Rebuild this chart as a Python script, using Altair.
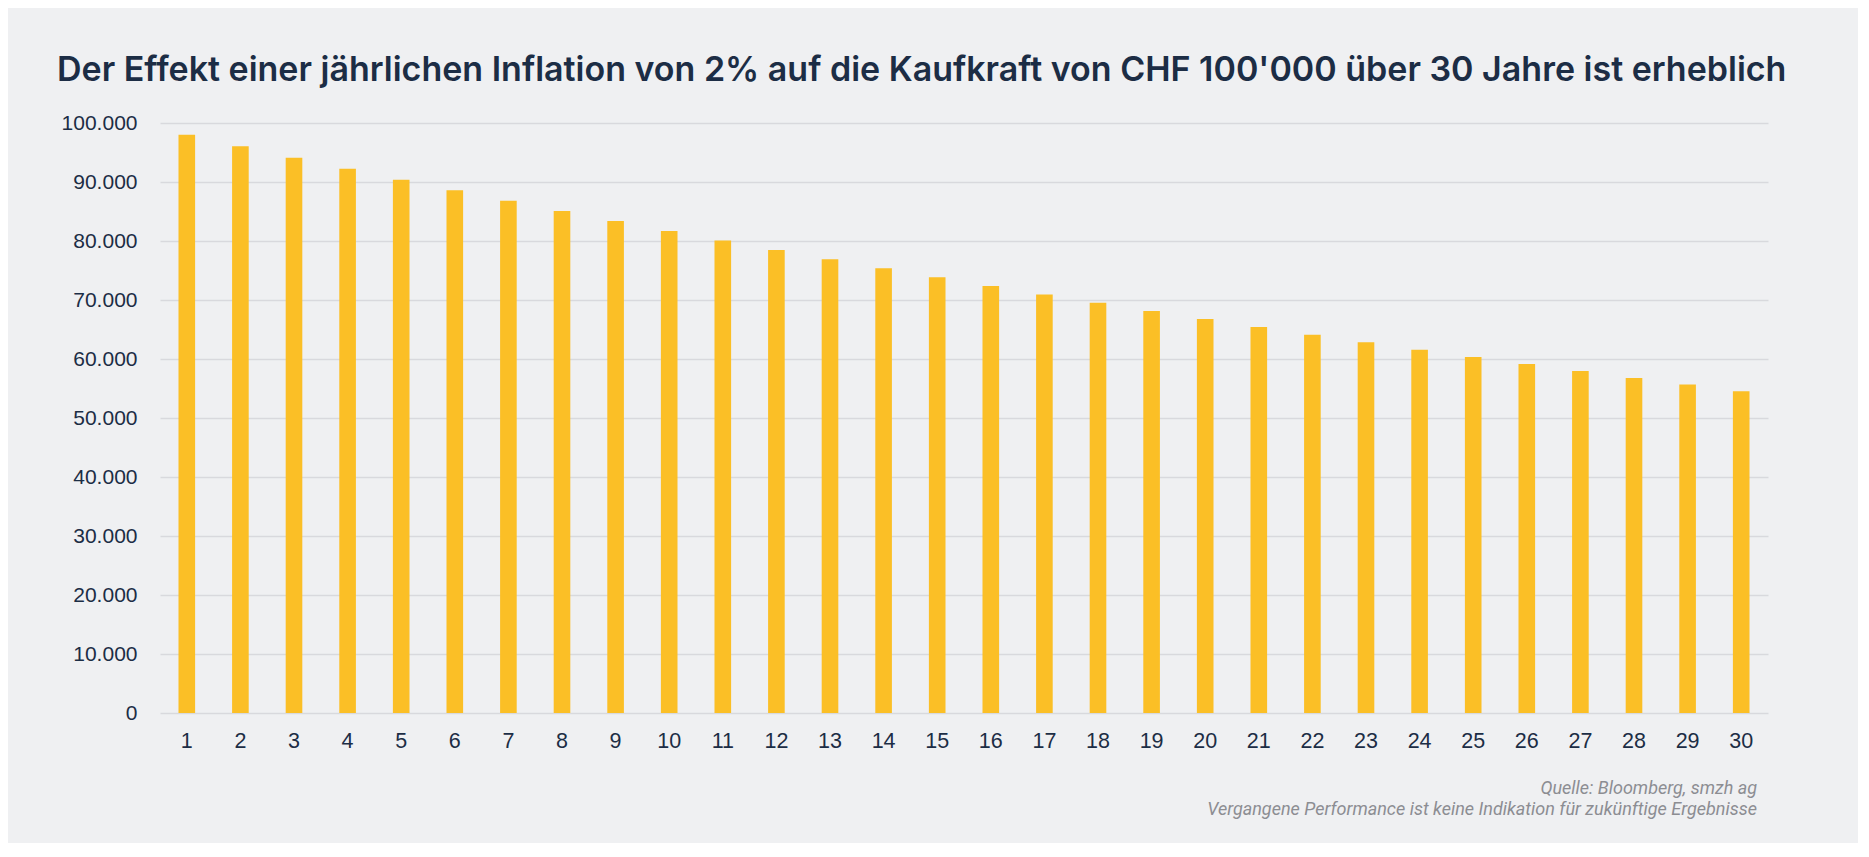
import altair as alt
import pandas as pd

years = list(range(1, 31))
values = [98000, 96040, 94119, 92237, 90392, 88584, 86813, 85076, 83375, 81707,
          80073, 78472, 76902, 75364, 73857, 72380, 70932, 69514, 68123, 66761,
          65426, 64117, 62835, 61578, 60346, 59140, 57957, 56798, 55662, 54548]

title_text = "Der Effekt einer jährlichen Inflation von 2% auf die Kaufkraft von CHF 100'000 über 30 Jahre ist erheblich"
footer_lines = ["Quelle: Bloomberg, smzh ag",
                "Vergangene Performance ist keine Indikation für zukünftige Ergebnisse"]

BG = "#eff0f2"
NAVY = "#1c2d45"
GRID = "#d8d9dd"
BAR = "#fbbf26"

df = pd.DataFrame({"Jahr": years, "Wert": values})
foot = pd.DataFrame({"text": footer_lines, "line": [0, 1]})

W, H = 1608, 590

bars = alt.Chart(df).mark_bar(color=BAR).encode(
    x=alt.X("Jahr:O", title=None,
            scale=alt.Scale(paddingInner=0.69, paddingOuter=0.345),
            axis=alt.Axis(labelAngle=0, labelFont="Liberation Sans", labelFontSize=21.5,
                          labelColor=NAVY, labelPadding=17, ticks=False, domain=False,
                          grid=False)),
    y=alt.Y("Wert:Q", title=None,
            scale=alt.Scale(domain=[0, 100000]),
            axis=alt.Axis(values=list(range(0, 100001, 10000)),
                          labelExpr="replace(format(datum.value, ','), ',', '.')",
                          labelFont="Liberation Sans", labelFontSize=21, labelColor=NAVY,
                          labelPadding=23, ticks=False, domain=False,
                          gridColor=GRID, gridWidth=1.5)),
)

footer = alt.Chart(foot).mark_text(
    align="right", baseline="alphabetic", font="Roboto", fontStyle="italic",
    fontSize=18, color="#8c8d92"
).encode(
    text="text:N",
    x=alt.value(1757 - 160),
    y=alt.Y("line:Q", axis=None, scale=alt.Scale(domain=[0, 1], range=[671, 692])),
)

chart = alt.layer(bars, footer).resolve_scale(y="independent").properties(
    width=W, height=H,
    background=BG,
    autosize=alt.AutoSizeParams(type="none"),
    padding={"left": 152, "top": 115, "right": 90, "bottom": 130},
    title=alt.Title(title_text, anchor="start", frame="group", dx=-103, dy=33,
                    font="Inter", fontWeight=600, fontSize=34, color=NAVY,
                    baseline="alphabetic", offset=30),
).configure_view(stroke=None)

chart.save("out.html", embed_options={"renderer": "svg", "actions": False})
